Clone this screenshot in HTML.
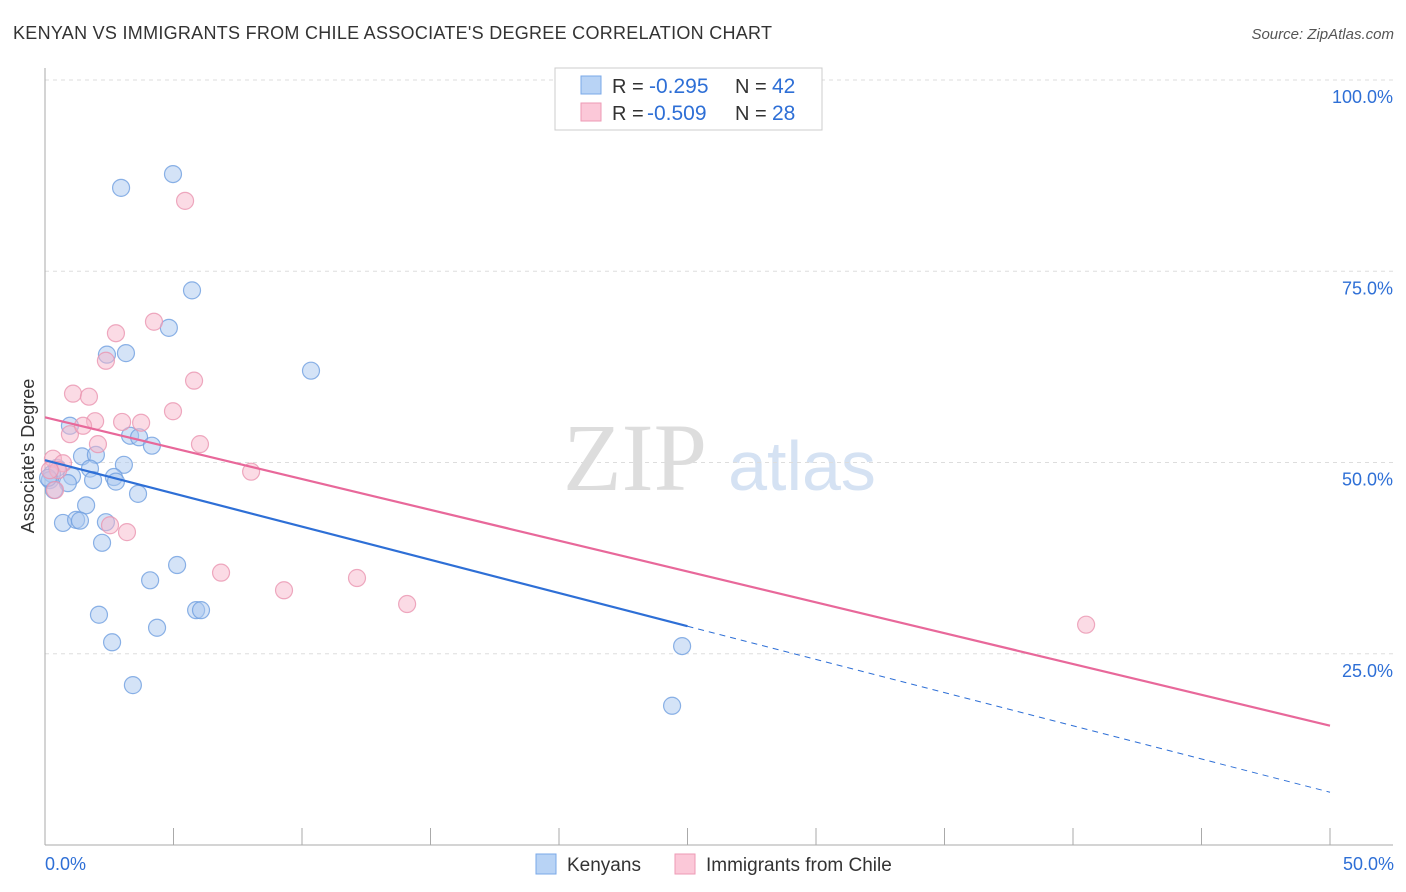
<!DOCTYPE html>
<html><head><meta charset="utf-8"><style>
body{margin:0;background:#fff;font-family:"Liberation Sans",sans-serif;}
svg{display:block}
</style></head><body>
<svg id="chart" width="1406" height="892">
<text x="13" y="39" font-size="18" fill="#333" textLength="759">KENYAN VS IMMIGRANTS FROM CHILE ASSOCIATE'S DEGREE CORRELATION CHART</text>
<text x="1394" y="39" font-size="15" fill="#555" font-style="italic" text-anchor="end">Source: ZipAtlas.com</text>
<g>
<text x="635" y="490" font-size="96" fill="#ddd" font-family="Liberation Serif" text-anchor="middle">ZIP</text>
<text x="802" y="490" font-size="70" fill="#d5e2f3" text-anchor="middle">atlas</text>
</g>
<g id="grid"></g>
<g id="axes"></g>
<g id="pts"></g>
<g id="trend"></g>
<text transform="translate(34,456) rotate(-90)" font-size="18" fill="#333" text-anchor="middle">Associate's Degree</text>
<g>
<rect x="555" y="68" width="267" height="62" fill="#fff" stroke="#ccc"/>
<rect x="581" y="76" width="20" height="18" fill="#b8d3f5" stroke="#7aa8e8"/>
<rect x="581" y="103" width="20" height="18" fill="#fbc8d8" stroke="#ee9ab5"/>
<text x="612" y="93" font-size="20" fill="#333">R = <tspan x="649" fill="#2e6fd6" font-size="21">-0.295</tspan></text>
<text x="735" y="93" font-size="20" fill="#333">N = <tspan x="772" fill="#2e6fd6" font-size="21">42</tspan></text>
<text x="612" y="120" font-size="20" fill="#333">R = <tspan x="647" fill="#2e6fd6" font-size="21">-0.509</tspan></text>
<text x="735" y="120" font-size="20" fill="#333">N = <tspan x="772" fill="#2e6fd6" font-size="21">28</tspan></text>
</g>
<g>
<rect x="536" y="854" width="20" height="20" fill="#b8d3f5" stroke="#7aa8e8"/>
<text x="567" y="871" font-size="19" fill="#333">Kenyans</text>
<rect x="675" y="854" width="20" height="20" fill="#fbc8d8" stroke="#ee9ab5"/>
<text x="706" y="871" font-size="19" fill="#333">Immigrants from Chile</text>
</g>
</svg>
<script>
const yTicks=[25,50,75,100];
const yTickLabels=["25.0%","50.0%","75.0%","100.0%"];
const xTickLabels=["0.0%","50.0%"];
const blueX=[2.96,4.98,5.72,4.82,3.15,2.41,10.35,0.97,3.31,3.66,4.16,1.44,1.98,3.07,1.75,0.47,0.27,1.05,2.68,1.87,2.76,0.89,0.19,0.35,3.62,1.60,0.70,1.21,1.36,2.37,2.22,5.14,4.09,2.10,5.88,6.07,4.36,2.61,3.42,24.79,24.40,0.12];
const blueY=[85.9,87.7,72.5,67.6,64.3,64.1,62.0,54.8,53.5,53.3,52.2,50.8,51.0,49.7,49.2,49.3,48.5,48.2,48.1,47.7,47.5,47.3,47.7,46.4,45.9,44.4,42.1,42.5,42.4,42.2,39.5,36.6,34.6,30.1,30.7,30.7,28.4,26.5,20.9,26.0,18.2,48.0];
const pinkX=[5.45,4.24,2.76,2.37,5.80,1.09,1.71,1.95,3.00,3.74,0.97,1.48,4.98,2.06,6.03,8.02,0.31,0.70,0.51,0.39,2.53,3.19,6.85,9.30,12.14,14.09,40.51,0.19];
const pinkY=[84.2,68.4,66.9,63.3,60.7,59.0,58.6,55.4,55.3,55.2,53.7,54.8,56.7,52.4,52.4,48.8,50.5,49.9,49.0,46.4,41.8,40.9,35.6,33.3,34.9,31.5,28.8,49.0];
const blueTrend=[50.3,6.9];   // y at x=0 and x=50
const pinkTrend=[55.9,15.6];
const blueSolidEnd=25;

const X=v=>45+v*1285/50, Y=v=>845-v*7.65;
const NS="http://www.w3.org/2000/svg";
function mk(t,a,p){const e=document.createElementNS(NS,t);for(const k in a)e.setAttribute(k,a[k]);p.appendChild(e);return e;}
const grid=document.getElementById('grid'),axes=document.getElementById('axes');
yTicks.forEach((t,i)=>{
 const l=mk('line',{x1:45,x2:1393,y1:Y(t),y2:Y(t),stroke:'#ddd','stroke-dasharray':'4,4'},grid);
 
 
 const tx=mk('text',{x:1393,y:Y(t)+23,'font-size':18,fill:'#2e6fd6','text-anchor':'end'},grid);
 tx.textContent=yTickLabels[i];
 
 
});
mk('line',{x1:45,x2:45,y1:68,y2:845,stroke:'#aaa'},axes);
mk('line',{x1:45,x2:1393,y1:845,y2:845,stroke:'#aaa'},axes);
for(let i=0;i<=10;i++){const l=mk('line',{x1:X(i*5),x2:X(i*5),y1:828,y2:845,stroke:'#aaa'},axes);
 
 }
xTickLabels.forEach((s,i)=>{const t=mk('text',{x:i?1394:45,y:870,'font-size':18,fill:'#2e6fd6','text-anchor':i?'end':'start'},axes);t.textContent=s;
 
 });
const pts=document.getElementById('pts');
function dots(xs,ys,fill,stroke,name){xs.forEach((x,i)=>{const c=mk('circle',{cx:X(x),cy:Y(ys[i]),r:8.5,fill:fill,'fill-opacity':0.5,stroke:stroke,'stroke-opacity':0.8,'stroke-width':1.2},pts);
 
 });}
dots(blueX,blueY,'#a9c8f0','#6f9fe0','kenyan-point');
dots(pinkX,pinkY,'#f7b8cb','#ea95b0','chile-point');
const tr=document.getElementById('trend');
const by=x=>blueTrend[0]+(blueTrend[1]-blueTrend[0])*x/50;
const l1=mk('line',{x1:X(0),y1:Y(by(0)),x2:X(blueSolidEnd),y2:Y(by(blueSolidEnd)),stroke:'#2e6fd6','stroke-width':2.2},tr);


const l2=mk('line',{x1:X(blueSolidEnd),y1:Y(by(blueSolidEnd)),x2:X(50),y2:Y(by(50)),stroke:'#2e6fd6','stroke-width':1,'stroke-dasharray':'6,5'},tr);


const l3=mk('line',{x1:X(0),y1:Y(pinkTrend[0]),x2:X(50),y2:Y(pinkTrend[1]),stroke:'#e8689a','stroke-width':2.2},tr);


</script>
</body></html>
